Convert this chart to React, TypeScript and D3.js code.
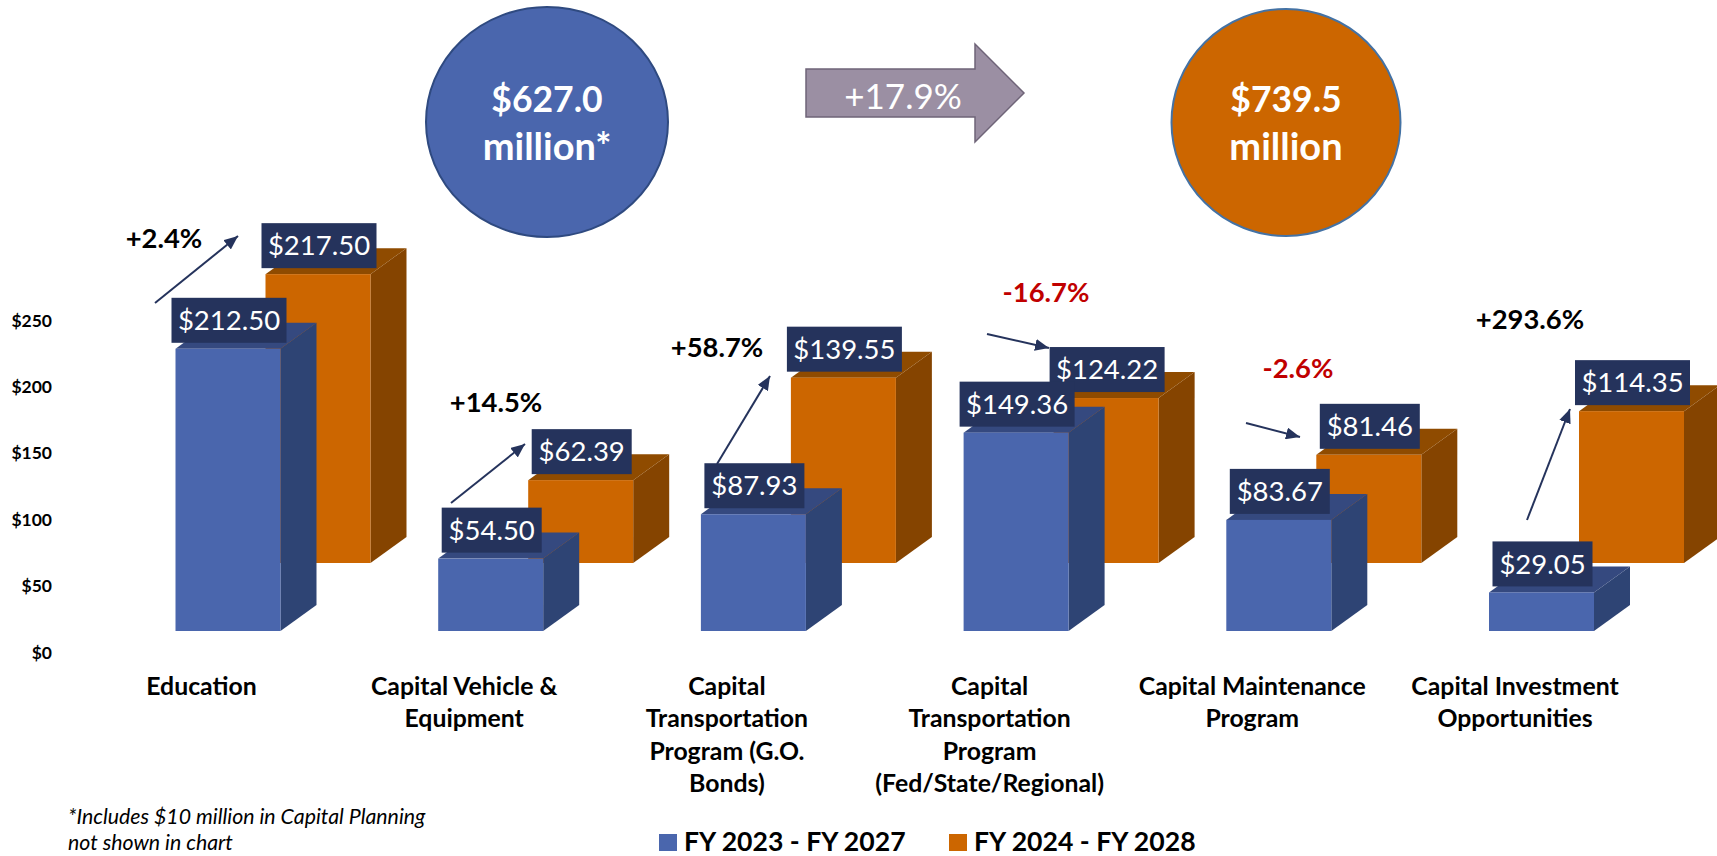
import React, { useEffect, useRef } from "react";
import * as d3 from "d3";

const categories = [
  "Education",
  "Capital Vehicle & Equipment",
  "Capital Transportation Program (G.O. Bonds)",
  "Capital Transportation Program (Fed/State/Regional)",
  "Capital Maintenance Program",
  "Capital Investment Opportunities",
];
const categoryLines = [
  ["Education"],
  ["Capital Vehicle &", "Equipment"],
  ["Capital", "Transportation", "Program (G.O.", "Bonds)"],
  ["Capital", "Transportation", "Program", "(Fed/State/Regional)"],
  ["Capital Maintenance", "Program"],
  ["Capital Investment", "Opportunities"],
];
const series = ["FY 2023 - FY 2027", "FY 2024 - FY 2028"];
const fy2023 = [212.5, 54.5, 87.93, 149.36, 83.67, 29.05];
const fy2024 = [217.5, 62.39, 139.55, 124.22, 81.46, 114.35];
const changes = ["+2.4%", "+14.5%", "+58.7%", "-16.7%", "-2.6%", "+293.6%"];
const yTicks = [0, 50, 100, 150, 200, 250];

// annotation layout, page pixels
const changePos = [[164, 238], [496, 402], [717, 347], [1046, 292], [1298, 368], [1530, 319]];
const arrows = [
  [155, 303, 238, 236],
  [451, 503, 525, 444],
  [717, 464, 770, 376],
  [987, 334, 1049, 348],
  [1246, 423, 1300, 437],
  [1527, 520, 1570, 409],
];

const W = 1717, H = 856;
const font = "Lato, sans-serif";
const navy = "#25335c";
const faces = [
  { front: "#4a66ad", side: "#2e4474", top: "#35497f", base: 631 },
  { front: "#cc6600", side: "#854400", top: "#8f4b00", base: 563 },
];
const barW = 105, dx = 36, dy = 26;

export default function App() {
  const ref = useRef<SVGSVGElement>(null);

  useEffect(() => {
    const svg = d3.select(ref.current);
    svg.selectAll("*").remove();

    const x = d3.scaleBand().domain(categories).range([175.5, 175.5 + 262.7 * 6]);
    const xSeries = d3.scalePoint().domain(series).range([0, 90]);
    const y = d3.scaleLinear().domain([0, 250]).range([652, 320]);
    const h = (v: number) => y(0) - y(v);

    const defs = svg.append("defs");
    defs.append("marker")
      .attr("id", "head")
      .attr("markerUnits", "userSpaceOnUse")
      .attr("viewBox", "0 0 14 12")
      .attr("refX", 14).attr("refY", 6)
      .attr("markerWidth", 14).attr("markerHeight", 12)
      .attr("orient", "auto")
      .append("path").attr("d", "M0,0L14,6L0,12Z").attr("fill", navy);

    //y axis
    const axis = svg.append("g")
      .attr("transform", "translate(52,0.5)")
      .call(d3.axisLeft(y).tickValues(yTicks).tickSize(0).tickPadding(0).tickFormat((d) => "$" + d));
    axis.select(".domain").remove();
    axis.selectAll("text")
      .attr("font-family", font).attr("font-size", 17.5).attr("font-weight", 700).attr("fill", "#000");

    //orange bars first, the blue ones stand in front of them
    [fy2024, fy2023].forEach((values) => {
      const s = values === fy2023 ? 0 : 1;
      const f = faces[s];
      const g = svg.append("g");
      values.forEach((v, i) => {
        const x0 = x(categories[i])! + xSeries(series[s])!;
        const top = f.base - h(v);
        const x1 = x0 + barW;
        g.append("polygon").attr("fill", f.side)
          .attr("points", `${x1},${top} ${x1 + dx},${top - dy} ${x1 + dx},${f.base - dy} ${x1},${f.base}`);
        g.append("polygon").attr("fill", f.top)
          .attr("points", `${x0},${top} ${x0 + dx},${top - dy} ${x1 + dx},${top - dy} ${x1},${top}`);
        g.append("rect").attr("x", x0).attr("y", top).attr("width", barW).attr("height", h(v)).attr("fill", f.front);
      });
    });

    //value labels
    [fy2024, fy2023].forEach((values) => {
      const s = values === fy2023 ? 0 : 1;
      values.forEach((v, i) => {
        const label = d3.format("$.2f")(v);
        const cx = x(categories[i])! + xSeries(series[s])! + barW / 2 + 1;
        const top = faces[s].base - h(v);
        const w = label.length * 15 + 10;
        svg.append("rect").attr("x", cx - w / 2).attr("y", top - 51).attr("width", w).attr("height", 45).attr("fill", navy);
        svg.append("text").attr("x", cx).attr("y", top - 28.5).attr("dy", "0.35em")
          .attr("text-anchor", "middle").attr("font-family", font).attr("font-size", 27.5).attr("fill", "#fff")
          .text(label);
      });
    });

    //change arrows and labels
    arrows.forEach((a) => {
      svg.append("line").attr("x1", a[0]).attr("y1", a[1]).attr("x2", a[2]).attr("y2", a[3])
        .attr("stroke", navy).attr("stroke-width", 2).attr("marker-end", "url(#head)");
    });
    changes.forEach((c, i) => {
      svg.append("text").attr("x", changePos[i][0]).attr("y", changePos[i][1]).attr("dy", "0.35em")
        .attr("text-anchor", "middle").attr("font-family", font).attr("font-size", 27.4).attr("font-weight", 700)
        .attr("fill", c[0] === "-" ? "#c00000" : "#000").text(c);
    });

    //category labels
    categoryLines.forEach((lines, i) => {
      lines.forEach((line, j) => {
        svg.append("text").attr("x", x(categories[i])! + 26).attr("y", 686 + j * 32.5).attr("dy", "0.35em")
          .attr("text-anchor", "middle").attr("font-family", font).attr("font-size", 24.8).attr("font-weight", 700)
          .attr("fill", "#000").text(line);
      });
    });

    //totals on top
    const totals = [
      { cx: 547, rx: 121, ry: 115, cy: 122, fill: "#4a66ad", stroke: "#2f4a80", lines: ["$627.0", "million*"] },
      { cx: 1286, rx: 114.5, ry: 113.5, cy: 122.5, fill: "#cc6600", stroke: "#4472a4", lines: ["$739.5", "million"] },
    ];
    totals.forEach((t) => {
      svg.append("ellipse").attr("cx", t.cx).attr("cy", t.cy).attr("rx", t.rx).attr("ry", t.ry)
        .attr("fill", t.fill).attr("stroke", t.stroke).attr("stroke-width", 2);
      t.lines.forEach((line, j) => {
        svg.append("text").attr("x", t.cx).attr("y", 100 + j * 47).attr("dy", "0.35em")
          .attr("text-anchor", "middle").attr("font-family", font).attr("font-size", j === 0 ? 35.5 : 38).attr("font-weight", 700)
          .attr("fill", "#fff").text(line);
      });
    });

    svg.append("polygon")
      .attr("points", "806,69 975,69 975,44 1024,93 975,142 975,117 806,117")
      .attr("fill", "#9b8fa3").attr("stroke", "#6f6478").attr("stroke-width", 1.5);
    svg.append("text").attr("x", 903).attr("y", 97).attr("dy", "0.35em")
      .attr("text-anchor", "middle").attr("font-family", font).attr("font-size", 35).attr("fill", "#fff").text("+17.9%");

    //footnote
    ["*Includes $10 million in Capital Planning", "not shown in chart"].forEach((line, j) => {
      svg.append("text").attr("x", 68).attr("y", 817 + j * 26).attr("dy", "0.35em")
        .attr("font-family", font).attr("font-size", 21.3).attr("font-style", "italic").attr("fill", "#000").text(line);
    });

    //legend
    const legendX = [659, 949];
    series.forEach((s, i) => {
      svg.append("rect").attr("x", legendX[i]).attr("y", 834).attr("width", 18).attr("height", 17).attr("fill", faces[i].front);
      svg.append("text").attr("x", legendX[i] + 25).attr("y", 842).attr("dy", "0.35em")
        .attr("font-family", font).attr("font-size", 26.6).attr("font-weight", 700).attr("fill", "#000").text(s);
    });
  }, []);

  return <svg ref={ref} width={W} height={H} style={{ position: "absolute", left: 0, top: 0, display: "block", background: "#fff" }} />;
}
